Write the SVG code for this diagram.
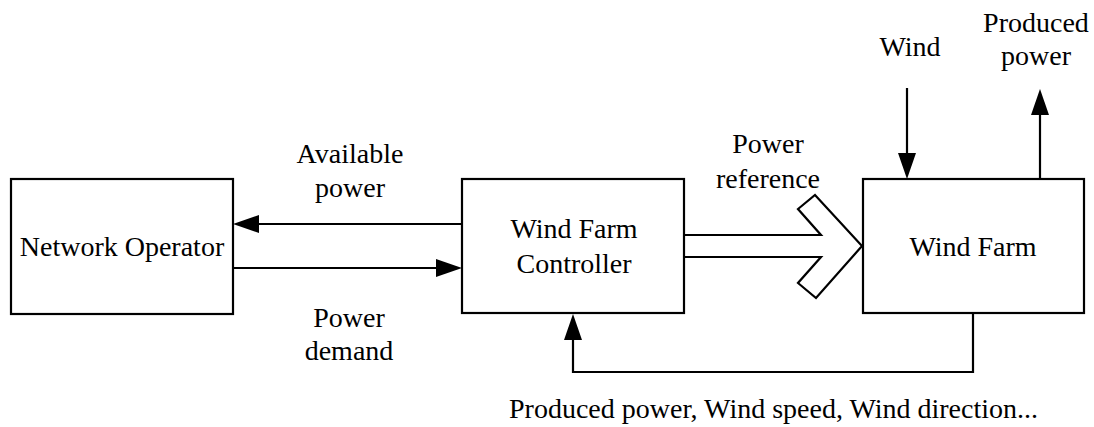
<svg xmlns="http://www.w3.org/2000/svg" width="1094" height="427" viewBox="0 0 1094 427">
  <rect width="1094" height="427" fill="#ffffff"/>

  <g id="connectors" fill="none" stroke="#000000" stroke-width="2.2">
    <!-- Available power: controller to operator -->
    <line x1="462" y1="224" x2="258" y2="224"/>
    <!-- Power demand: operator to controller -->
    <line x1="233" y1="268" x2="437" y2="268"/>
    <!-- Power reference: hollow block arrow -->
    <path d="M685,235 L821,235 L798,209 L815,195 L862,246 L816,298 L798,283 L821,257 L685,257"/>
    <!-- Wind input -->
    <line x1="907" y1="88" x2="907" y2="154"/>
    <!-- Produced power output -->
    <line x1="1040" y1="179" x2="1040" y2="114"/>
    <!-- Feedback: wind farm measurements to controller -->
    <polyline points="973,313 973,372 573,372 573,339"/>
    <!-- arrowheads -->
    <g fill="#000000" stroke="none">
      <polygon points="233,224 259,215 259,233"/>
      <polygon points="462,268 436,259 436,277"/>
      <polygon points="907,179 898,153 916,153"/>
      <polygon points="1040,89 1031,115 1049,115"/>
      <polygon points="573,314 564,340 582,340"/>
    </g>
  </g>

  <g id="network-operator" text-anchor="middle">
    <rect x="11" y="179" width="222" height="135" fill="#ffffff" stroke="#000000" stroke-width="2.2"/>
    <text font-family="Liberation Serif" font-size="28" x="122" y="256">Network Operator</text>
  </g>

  <g id="wind-farm-controller" text-anchor="middle">
    <rect x="462" y="179" width="222" height="134" fill="#ffffff" stroke="#000000" stroke-width="2.2"/>
    <text font-family="Liberation Serif" font-size="28" x="574" y="238">Wind Farm</text>
    <text font-family="Liberation Serif" font-size="28" x="574" y="273">Controller</text>
  </g>

  <g id="wind-farm" text-anchor="middle">
    <rect x="863" y="179" width="221" height="134" fill="#ffffff" stroke="#000000" stroke-width="2.2"/>
    <text font-family="Liberation Serif" font-size="28" x="973" y="256">Wind Farm</text>
  </g>

  <g id="labels" text-anchor="middle">
    <text font-family="Liberation Serif" font-size="28" x="350" y="163">Available</text>
    <text font-family="Liberation Serif" font-size="28" x="350" y="197">power</text>
    <text font-family="Liberation Serif" font-size="28" x="349" y="327">Power</text>
    <text font-family="Liberation Serif" font-size="28" x="349" y="360">demand</text>
    <text font-family="Liberation Serif" font-size="28" x="768" y="153">Power</text>
    <text font-family="Liberation Serif" font-size="28" x="768" y="188">reference</text>
    <text font-family="Liberation Serif" font-size="28" x="910" y="56">Wind</text>
    <text font-family="Liberation Serif" font-size="28" x="1036" y="32">Produced</text>
    <text font-family="Liberation Serif" font-size="28" x="1036" y="65">power</text>
    <text font-family="Liberation Serif" font-size="28" x="509" y="418" text-anchor="start">Produced power, Wind speed, Wind direction...</text>
  </g>
</svg>
